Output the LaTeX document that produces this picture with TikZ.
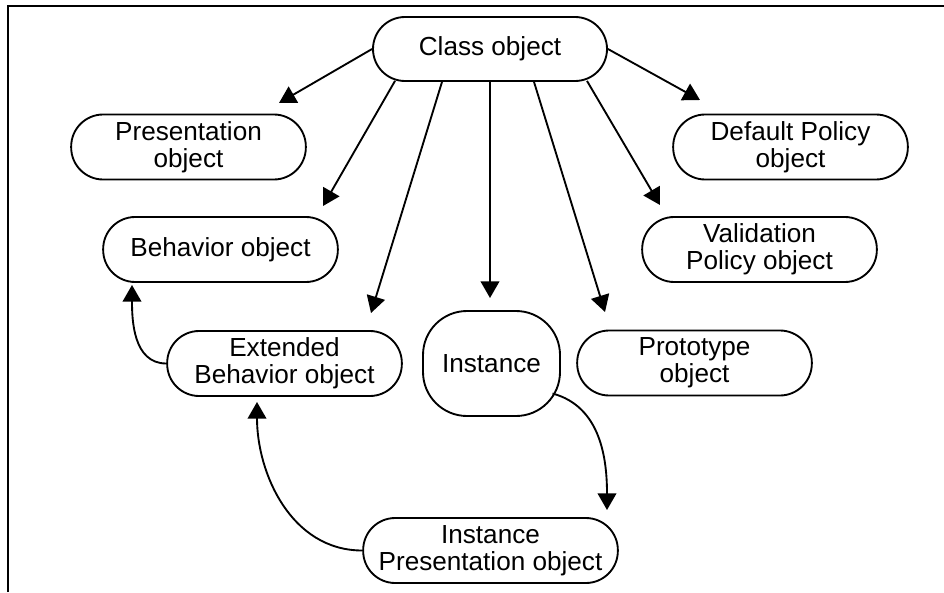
\documentclass[tikz,border=0pt]{standalone}
\usepackage{fontspec}
\setmainfont{Liberation Sans}
\usetikzlibrary{arrows.meta,calc}
\begin{document}
\begin{tikzpicture}[x=0.75pt,y=-0.75pt,
  line width=1.4pt,
  pill/.style={draw, rounded corners=24pt, minimum width=176pt, minimum height=48.75pt,
    align=center, inner sep=0pt, font=\fontsize{19.6}{20.5}\selectfont},
  link/.style={-{Triangle[length=12.5pt,width=14pt]}}
]
\useasboundingbox (0,0) rectangle (944,592);
% frame on the left and top
\draw (8,592) -- (8,6) -- (944,6);

% objects
\node[pill, minimum width=175.5pt, minimum height=48pt] (class) at (490,49) {Class object};
\node[pill] (pres)  at (188.5,147) {Presentation\\object};
\node[pill] (defp)  at (790.5,147) {Default Policy\\object};
\node[pill] (behav) at (220.5,249.5) {Behavior object};
\node[pill] (valid) at (759.5,249.5) {Validation\\Policy object};
\node[pill] (ext)   at (284.5,363.5) {Extended\\Behavior object};
\node[pill, rounded corners=33pt, minimum width=102.75pt, minimum height=78.75pt] (inst) at (491.5,363.5) {Instance};
\node[pill] (proto) at (694.5,363) {Prototype\\object};
\node[pill, minimum width=191pt] (ip) at (490.5,550.5) {Instance\\Presentation object};

% arrow tips
\coordinate (tPres)  at (279,103);
\coordinate (tBeh)   at (323,206);
\coordinate (tExt)   at (371,313);
\coordinate (tInst)  at (490,298);
\coordinate (tProto) at (605,312);
\coordinate (tValid) at (660,205);
\coordinate (tDef)   at (700,100);
\coordinate (tBeh2)  at (132,285);
\coordinate (tExt2)  at (257,402);
\coordinate (tIP)    at (607,510);

% from the class object
\draw[link] (class.west) -- (tPres);
\draw[link] ($(class.south)+(-95,-1)$) -- (tBeh);
\draw[link] ($(class.south)+(-48,0)$) -- (tExt);
\draw[link] (class.south) -- (tInst);
\draw[link] ($(class.south)+(44,0)$) -- (tProto);
\draw[link] ($(class.south)+(97,-1)$) -- (tValid);
\draw[link] (class.east) -- (tDef);

% curved links
\draw[link] (ext.west) to[out=180,in=-90] (tBeh2);
\draw[link] (ip.west) to[out=180,in=-90] (tExt2);
\draw[link] ($(inst.center)+(61,30)$) to[out=-15,in=90] (tIP);
\end{tikzpicture}
\end{document}
